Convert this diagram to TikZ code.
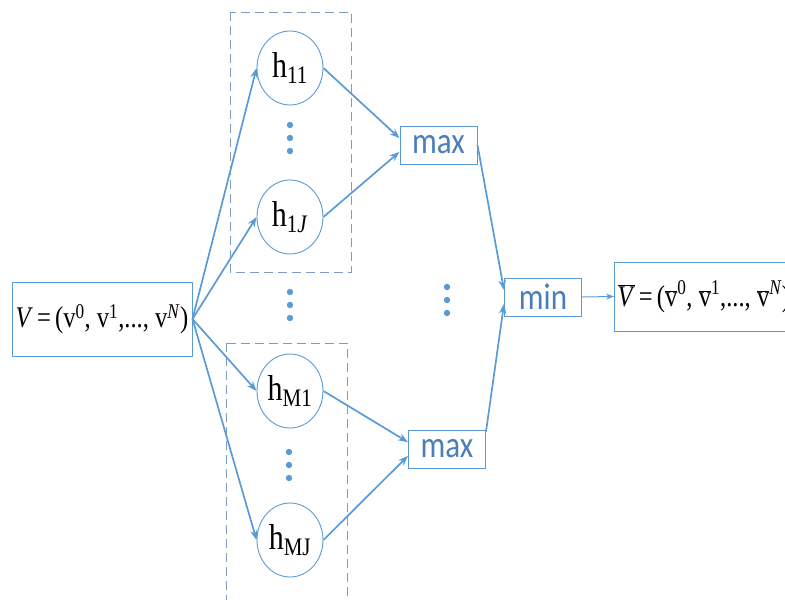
\documentclass[tikz,border=0pt]{standalone}
\usepackage{fontspec}
\setmainfont{Liberation Serif}
\newfontfamily\calib{Carlito}
\usetikzlibrary{arrows.meta,calc,shapes.geometric}
\definecolor{lb}{HTML}{5B9BD5}
\definecolor{lbt}{HTML}{4A7EBB}
\definecolor{dashc}{HTML}{7F9CC4}
\newcommand\ovl[1]{$\overline{\mbox{#1}}$}
\newcommand\tall[1]{\scalebox{1}[1.2]{#1}}
\newcommand\sq[1]{\scalebox{0.82}[1]{#1}}
\newcommand\hsup[1]{\raisebox{3pt}{\textsuperscript{#1}}}
\begin{document}
\begin{tikzpicture}[x=1pt,y=-1pt,
  box/.style={draw=lb, line width=1pt, inner sep=0pt},
  hcirc/.style={draw=lb, line width=0.9pt, ellipse, minimum width=66, minimum height=74, inner sep=0pt,
    font=\fontsize{30}{30}\selectfont},
  opbox/.style={box, minimum width=77, minimum height=38, text=lbt, font=\calib\fontsize{31}{31}\selectfont},
  conn/.style={draw=lb, line width=1.7pt, -{Stealth[length=10pt,width=7.5pt]}},
  dashbox/.style={draw=dashc, line width=1pt, dash pattern=on 9pt off 5pt},
  vdot/.style={fill=lb}
]
\useasboundingbox (0,0) rectangle (785,600);
% dashed groups
\draw[dashbox] (230,12) rectangle (351,272);
\draw[dashbox] (226,343) rectangle (347,612);
% input
\node[box, minimum width=180, minimum height=74, font=\fontsize{30}{30}\selectfont] (V) at (102,319)
  {\sq{\textit{V}\,=\,(v\textsuperscript{0}, v\textsuperscript{1},..., v\textsuperscript{\textit{N}})}};
% hidden units
\node[hcirc] (h11) at (290,68) {\tall{h\textsubscript{11}}};
\node[hcirc] (h1J) at (290,217) {\tall{h\textsubscript{1\textit{J}}}};
\node[hcirc] (hM1) at (290,391) {\tall{h\textsubscript{M1}}};
\node[hcirc] (hMJ) at (290,540) {\tall{h\textsubscript{MJ}}};
% operators
\node[opbox] (max1) at (438.5,145) {\tall{max}};
\node[opbox] (max2) at (447,449) {\tall{max}};
\node[opbox] (min) at (543,297) {\tall{min}};
% output
\node[box, anchor=west, minimum height=69, inner xsep=3pt, font=\fontsize{30}{30}\selectfont] (out) at (614,296.5)
  {\sq{\ovl{\textit{V}}\,=\,(\ovl{v}\hsup{0}, \ovl{v}\hsup{1},..., \ovl{v}\hsup{\textit{N}})}};
% dots
\foreach \y in {125,138,151} \fill[vdot] (290,\y) circle (3.2);
\foreach \y in {292,305,318} \fill[vdot] (290,\y) circle (3.2);
\foreach \y in {452,465,478} \fill[vdot] (289,\y) circle (3.2);
\foreach \y in {287,300,313} \fill[vdot] (447,\y) circle (3.2);
% connectors
\draw[conn] (V.east) -- (h11.west);
\draw[conn] (V.east) -- (h1J.west);
\draw[conn] (V.east) -- (hM1.west);
\draw[conn] (V.east) -- (hMJ.west);
\draw[conn] (h11.east) -- (max1.170);
\draw[conn] (h1J.east) -- (max1.190);
\draw[conn] (hM1.east) -- (max2.170);
\draw[conn] (hMJ.east) -- (max2.190);
\draw[conn] (max1.east) -- (min.170);
\draw[conn] (max2.24) -- (min.190);
\draw[draw=lb, line width=1pt, -{Stealth[length=8pt,width=6pt]}] (min.east) -- (out.west);
\end{tikzpicture}
\end{document}
